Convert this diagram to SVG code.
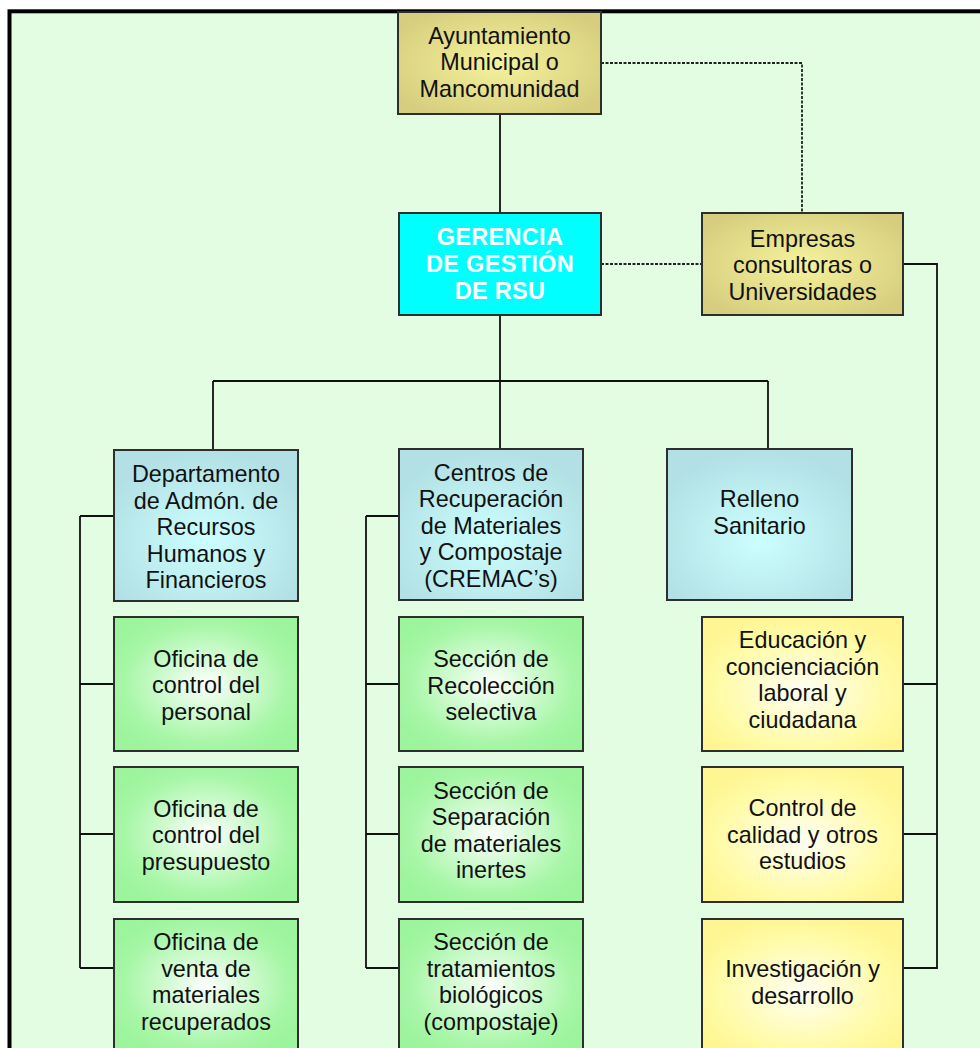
<svg xmlns="http://www.w3.org/2000/svg" width="980" height="1048" viewBox="0 0 980 1048">
<style>
.box{stroke:#2e2e2e;stroke-width:2}
.t{font-family:"Liberation Sans",Arial,sans-serif;font-size:23.4px;fill:#111;text-anchor:middle}
.tb{font-family:"Liberation Sans",Arial,sans-serif;font-size:23.5px;font-weight:bold;fill:#fff;text-anchor:middle;letter-spacing:0.3px}
.ln{stroke:#111;stroke-width:1.8;fill:none}
.dot{stroke:#222;stroke-width:1.8;fill:none;stroke-dasharray:3 1.5}
</style>
<defs>
<radialGradient id="gKhaki" cx="0.5" cy="0.5" r="0.6"><stop offset="0" stop-color="#F6F29C"/><stop offset="1" stop-color="#D6CE7E"/></radialGradient>
<radialGradient id="gBlue" cx="0.5" cy="0.6" r="0.6"><stop offset="0" stop-color="#CCFFFF"/><stop offset="1" stop-color="#B2E0E4"/></radialGradient>
<radialGradient id="gGreen" cx="0.5" cy="0.5" r="0.6"><stop offset="0" stop-color="#FCFFFC"/><stop offset="0.75" stop-color="#A6F6A6"/><stop offset="1" stop-color="#9CF49C"/></radialGradient>
<radialGradient id="gYellow" cx="0.5" cy="0.55" r="0.6"><stop offset="0" stop-color="#FFFFF4"/><stop offset="0.7" stop-color="#FFFBA6"/><stop offset="1" stop-color="#FFF592"/></radialGradient>
</defs>
<rect x="0" y="0" width="980" height="1048" fill="#fff"/>
<rect x="9.5" y="11.3" width="1000" height="1100" fill="#E2FDE2" stroke="#000" stroke-width="4"/>

<g id="connectors">
<path class="ln" d="M500 114 V213"/>
<path class="dot" d="M601 63 H802 V213"/>
<path class="dot" d="M601 264 H702"/>
<path class="ln" d="M500 315 V381 M213 381 H768 M213 381 V450 M500 381 V449 M768 381 V449"/>
<path class="ln" d="M80 516 V968 M80 516 H114 M80 684 H114 M80 834 H114 M80 968 H114"/>
<path class="ln" d="M366 516 V968 M366 516 H399 M366 684 H399 M366 834 H399 M366 968 H399"/>
<path class="ln" d="M903 264 H937 V968 H903 M937 684 H903 M937 834 H903"/>
</g>

<g id="ayuntamiento">
<rect class="box" x="398" y="12" width="203" height="102" fill="url(#gKhaki)"/>
<text class="t" x="499.5" y="43.5">Ayuntamiento</text>
<text class="t" x="499.5" y="70">Municipal o</text>
<text class="t" x="499.5" y="96.5">Mancomunidad</text>
</g>

<g id="gerencia">
<rect class="box" x="399" y="213" width="202" height="102" fill="#00FFFF"/>
<text class="tb" x="500" y="245">GERENCIA</text>
<text class="tb" x="500" y="272">DE GESTIÓN</text>
<text class="tb" x="500" y="299">DE RSU</text>
</g>

<g id="empresas">
<rect class="box" x="702" y="213" width="201" height="102" fill="url(#gKhaki)"/>
<text class="t" x="802.5" y="246.5">Empresas</text>
<text class="t" x="802.5" y="273">consultoras o</text>
<text class="t" x="802.5" y="299.5">Universidades</text>
</g>

<g id="departamento">
<rect class="box" x="114" y="450" width="184" height="151" fill="url(#gBlue)"/>
<text class="t" x="206" y="482">Departamento</text>
<text class="t" x="206" y="508.5">de Admón. de</text>
<text class="t" x="206" y="535">Recursos</text>
<text class="t" x="206" y="561.5">Humanos y</text>
<text class="t" x="206" y="588">Financieros</text>
</g>

<g id="centros">
<rect class="box" x="399" y="449" width="184" height="151" fill="url(#gBlue)"/>
<text class="t" x="491" y="480.5">Centros de</text>
<text class="t" x="491" y="507">Recuperación</text>
<text class="t" x="491" y="533.5">de Materiales</text>
<text class="t" x="491" y="560">y Compostaje</text>
<text class="t" x="491" y="586.5">(CREMAC’s)</text>
</g>

<g id="relleno">
<rect class="box" x="667" y="449" width="185" height="151" fill="url(#gBlue)"/>
<text class="t" x="759.5" y="507">Relleno</text>
<text class="t" x="759.5" y="533.5">Sanitario</text>
</g>

<g id="of-personal">
<rect class="box" x="114" y="617" width="184" height="134" fill="url(#gGreen)"/>
<text class="t" x="206" y="666.5">Oficina de</text>
<text class="t" x="206" y="693">control del</text>
<text class="t" x="206" y="719.5">personal</text>
</g>

<g id="of-presupuesto">
<rect class="box" x="114" y="767" width="184" height="135" fill="url(#gGreen)"/>
<text class="t" x="206" y="816.5">Oficina de</text>
<text class="t" x="206" y="843">control del</text>
<text class="t" x="206" y="869.5">presupuesto</text>
</g>

<g id="of-venta">
<rect class="box" x="114" y="919" width="184" height="134" fill="url(#gGreen)"/>
<text class="t" x="206" y="950">Oficina de</text>
<text class="t" x="206" y="976.5">venta de</text>
<text class="t" x="206" y="1003">materiales</text>
<text class="t" x="206" y="1029.5">recuperados</text>
</g>

<g id="sec-recoleccion">
<rect class="box" x="399" y="617" width="184" height="134" fill="url(#gGreen)"/>
<text class="t" x="491" y="667">Sección de</text>
<text class="t" x="491" y="693.5">Recolección</text>
<text class="t" x="491" y="720">selectiva</text>
</g>

<g id="sec-separacion">
<rect class="box" x="399" y="767" width="184" height="135" fill="url(#gGreen)"/>
<text class="t" x="491" y="798.5">Sección de</text>
<text class="t" x="491" y="825">Separación</text>
<text class="t" x="491" y="851.5">de materiales</text>
<text class="t" x="491" y="878">inertes</text>
</g>

<g id="sec-tratamientos">
<rect class="box" x="399" y="919" width="184" height="134" fill="url(#gGreen)"/>
<text class="t" x="491" y="950">Sección de</text>
<text class="t" x="491" y="976.5">tratamientos</text>
<text class="t" x="491" y="1003">biológicos</text>
<text class="t" x="491" y="1029.5">(compostaje)</text>
</g>

<g id="educacion">
<rect class="box" x="702" y="617" width="201" height="134" fill="url(#gYellow)"/>
<text class="t" x="802.5" y="648">Educación y</text>
<text class="t" x="802.5" y="674.5">concienciación</text>
<text class="t" x="802.5" y="701">laboral y</text>
<text class="t" x="802.5" y="727.5">ciudadana</text>
</g>

<g id="control-calidad">
<rect class="box" x="702" y="767" width="201" height="135" fill="url(#gYellow)"/>
<text class="t" x="802.5" y="816">Control de</text>
<text class="t" x="802.5" y="842.5">calidad y otros</text>
<text class="t" x="802.5" y="869">estudios</text>
</g>

<g id="investigacion">
<rect class="box" x="702" y="919" width="201" height="134" fill="url(#gYellow)"/>
<text class="t" x="802.5" y="977">Investigación y</text>
<text class="t" x="802.5" y="1003.5">desarrollo</text>
</g>
</svg>
